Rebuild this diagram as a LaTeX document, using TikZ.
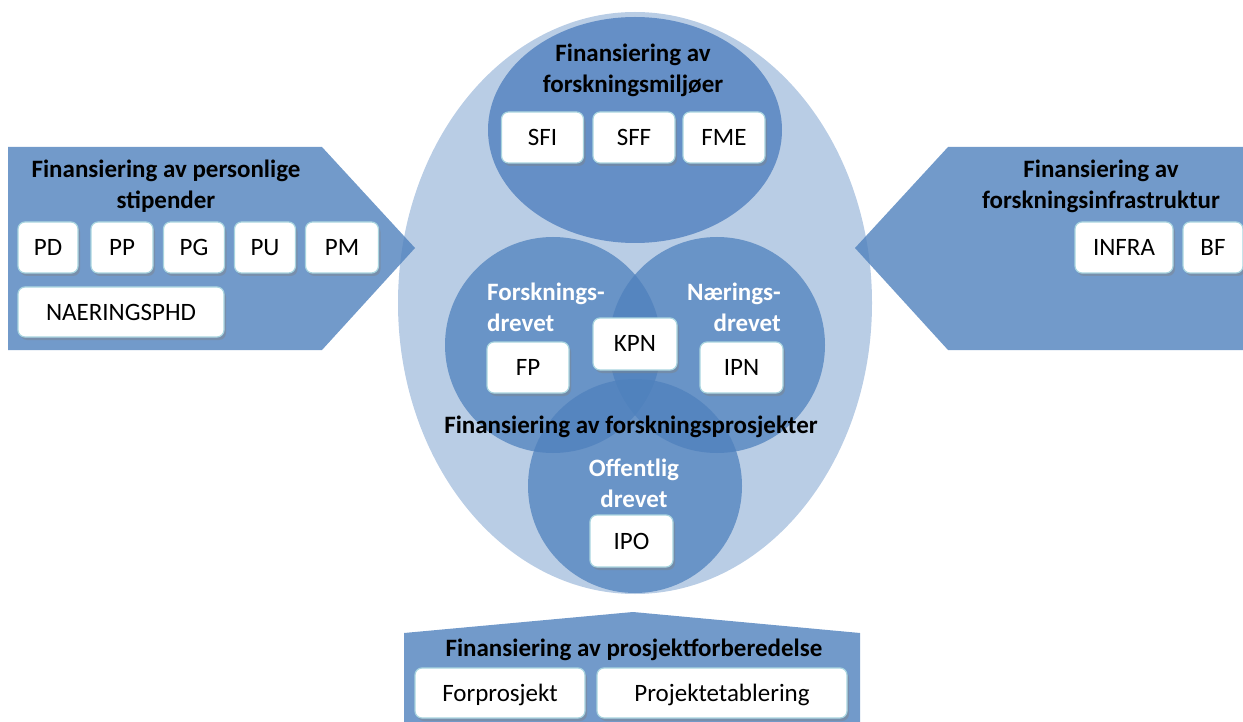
\documentclass[tikz,border=0pt]{standalone}
\usepackage{fontspec}
\setmainfont{Carlito}
\usetikzlibrary{shadows}
\definecolor{lightell}{HTML}{B9CDE5}
\definecolor{midblue}{HTML}{4F81BD}
\definecolor{topell}{HTML}{658FC6}
\definecolor{boxedge}{HTML}{A8D4DF}

\begin{document}
\begin{tikzpicture}[x=1pt, y=-1pt,
    fbox/.style={draw=boxedge, line width=1.2pt, fill=white, rounded corners=7pt,
        minimum height=51pt, text height=16pt, text depth=0pt, inner sep=0pt,
        font=\fontsize{25}{30}\selectfont,
        drop shadow={shadow xshift=2pt, shadow yshift=-3pt, opacity=0.4}},
    hdr/.style={font=\fontsize{25}{31}\selectfont\bfseries, align=center, inner sep=0pt},
    venntxt/.style={hdr, text=white}]
    \useasboundingbox (0,0) rectangle (1243,722);

    % big ellipse and the three groups inside
    \fill[lightell] (635,303) ellipse[x radius=237, y radius=291];
    \fill[topell] (635,130) ellipse[x radius=147, y radius=113];
    \fill[midblue, opacity=0.75] (553,345) circle[radius=108];
    \fill[midblue, opacity=0.75] (717,345) circle[radius=108];
    \fill[midblue, opacity=0.75] (635,486) circle[radius=107];

    % arrows pointing in
    \fill[midblue, opacity=0.8]
    (8,147) -- (322,147) -- (415,248) -- (322,350) -- (8,350) -- cycle;
    \fill[midblue, opacity=0.8]
    (855,248) -- (948,147) -- (1243,147) -- (1243,350) -- (948,350) -- cycle;
    \fill[midblue, opacity=0.8]
    (404,722) -- (404,633) -- (633,612) -- (860,633) -- (860,722) -- cycle;

    % personlige stipender
    \node[hdr] (persTitle) at (166,186) {Finansiering av personlige\\stipender};
    \foreach \name/\x/\w in {PD/48/60, PP/122/62, PG/194/61, PU/265/61, PM/342/73} {
        \node[fbox, minimum width=\w] (\name) at (\x,247.5) {\name};
    }
    \node[fbox, minimum width=206, minimum height=50] (naering) at (121,312) {NAERINGSPHD};

    % forskningsinfrastruktur
    \node[hdr] (infraTitle) at (1101,186) {Finansiering av\\forskningsinfrastruktur};
    \node[fbox, minimum width=98] (infra) at (1124,247.5) {INFRA};
    \node[fbox, minimum width=60] (bf) at (1213,247.5) {BF};

    % forskningsmiljoer
    \node[hdr] (miljoTitle) at (633,70) {Finansiering av\\forskningsmiljøer};
    \foreach \name/\x in {SFI/542.5, SFF/634, FME/724} {
        \node[fbox, minimum width=82] (\name) at (\x,137.5) {\name};
    }

    % forskningsprosjekter
    \node[venntxt, align=left, anchor=west] (forskDrevet) at (487,307) {Forsknings-\\drevet};
    \node[venntxt, align=right, anchor=east] (naerDrevet) at (781,307) {Nærings-\\drevet};
    \node[venntxt] (offDrevet) at (634,483) {Offentlig\\drevet};
    \node[fbox, minimum width=84, minimum height=52] (kpn) at (635,344) {KPN};
    \node[fbox, minimum width=82] (fp) at (528,367.5) {FP};
    \node[fbox, minimum width=83] (ipn) at (741.5,367.5) {IPN};
    \node[fbox, minimum width=83, minimum height=52] (ipo) at (631.5,541) {IPO};
    \node[hdr] (prosjTitle) at (631,427) {Finansiering av forskningsprosjekter};

    % prosjektforberedelse
    \node[hdr] (forbTitle) at (634,650) {Finansiering av prosjektforberedelse};
    \node[fbox, minimum width=170, minimum height=50] (forprosjekt) at (500,693) {Forprosjekt};
    \node[fbox, minimum width=250, minimum height=50] (etablering) at (722,693) {Projektetablering};
\end{tikzpicture}
\end{document}
